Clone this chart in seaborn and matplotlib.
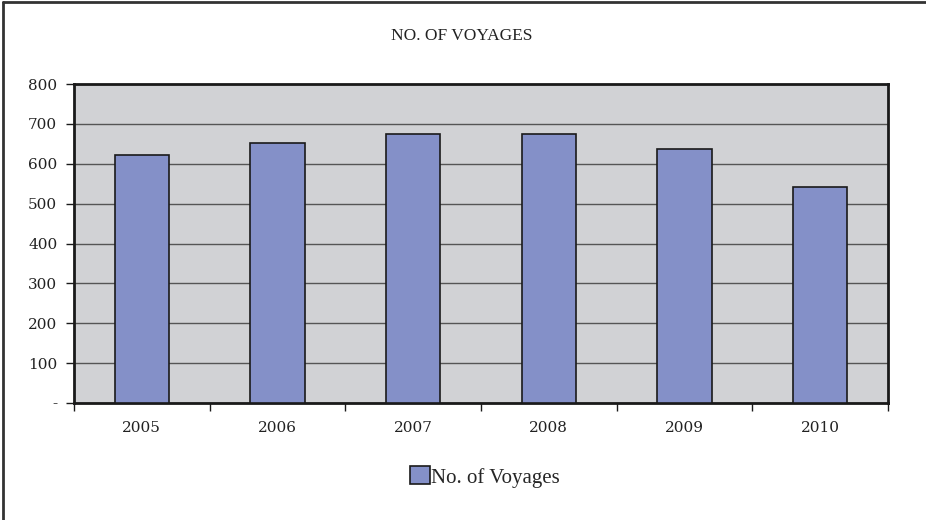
import matplotlib
matplotlib.use("Agg")
import matplotlib.pyplot as plt
from matplotlib.ticker import FixedLocator, FixedFormatter
import seaborn as sns
import pandas as pd

years = ["2005", "2006", "2007", "2008", "2009", "2010"]
voyages = [622, 653, 674, 674, 636, 541]
y_ticks = [0, 100, 200, 300, 400, 500, 600, 700, 800]
y_tick_labels = ["-", "100", "200", "300", "400", "500", "600", "700", "800"]
series_name = "No. of Voyages"
title = "NO. OF VOYAGES"

sns.set_theme(style="white")
plt.rcParams["font.family"] = ["DejaVu Serif"]

df = pd.DataFrame({"Year": years, series_name: voyages})

fig = plt.figure(figsize=(9.26, 5.2), dpi=100)
ax = fig.add_axes([74 / 926, 1 - 403 / 520, (888 - 74) / 926, (403 - 84) / 520])
ax.set_facecolor("#D1D2D5")

sns.barplot(data=df, x="Year", y=series_name, color="#8490C8", width=0.4,
            edgecolor="#1a1a1a", linewidth=1.2, saturation=1, ax=ax,
            label=series_name, zorder=3)

ax.set_ylim(0, 800)
ax.set_xlim(-0.5, len(years) - 0.5)
ax.yaxis.set_major_locator(FixedLocator(y_ticks))
ax.yaxis.set_major_formatter(FixedFormatter(y_tick_labels))
ax.grid(axis="y", color="#555555", linewidth=1.0, zorder=0)
ax.set_axisbelow(True)
ax.set_xlabel("")
ax.set_ylabel("")

for side in ["top", "bottom", "left", "right"]:
    ax.spines[side].set_visible(True)
    ax.spines[side].set_color("#1a1a1a")
    ax.spines[side].set_linewidth(2.0)

ax.tick_params(axis="y", which="major", direction="out", length=6, width=1,
               color="#1a1a1a", labelsize=11, pad=6, left=True)
ax.tick_params(axis="x", which="major", length=0, labelsize=11, pad=13)
ax.set_xticks([i - 0.5 for i in range(len(years) + 1)], minor=True)
ax.tick_params(axis="x", which="minor", direction="out", length=6, width=1,
               color="#1a1a1a", bottom=True)
for lbl in ax.get_xticklabels() + ax.get_yticklabels():
    lbl.set_color("#222222")

fig.text(462 / 926, 1 - 36 / 520, title, ha="center", va="center",
         fontsize=12.5, family="Liberation Serif", color="#222222")

handles, labels = ax.get_legend_handles_labels()
if ax.get_legend() is not None:
    ax.get_legend().remove()
fig.legend(handles, labels, loc="center", bbox_to_anchor=(485 / 926, 1 - 477 / 520),
           frameon=False, handlelength=0.95, handleheight=0.95, handletextpad=0.05,
           prop={"family": "Liberation Serif", "size": 15})

# Frame along the left and top edges of the chart area
fig.add_artist(plt.Line2D([2.5 / 926, 2.5 / 926], [0, 1 - 1.5 / 520],
                          transform=fig.transFigure, color="#333333", linewidth=2))
fig.add_artist(plt.Line2D([2.5 / 926, 1], [1 - 1.5 / 520, 1 - 1.5 / 520],
                          transform=fig.transFigure, color="#333333", linewidth=2))

fig.savefig("out.png", dpi=100)
